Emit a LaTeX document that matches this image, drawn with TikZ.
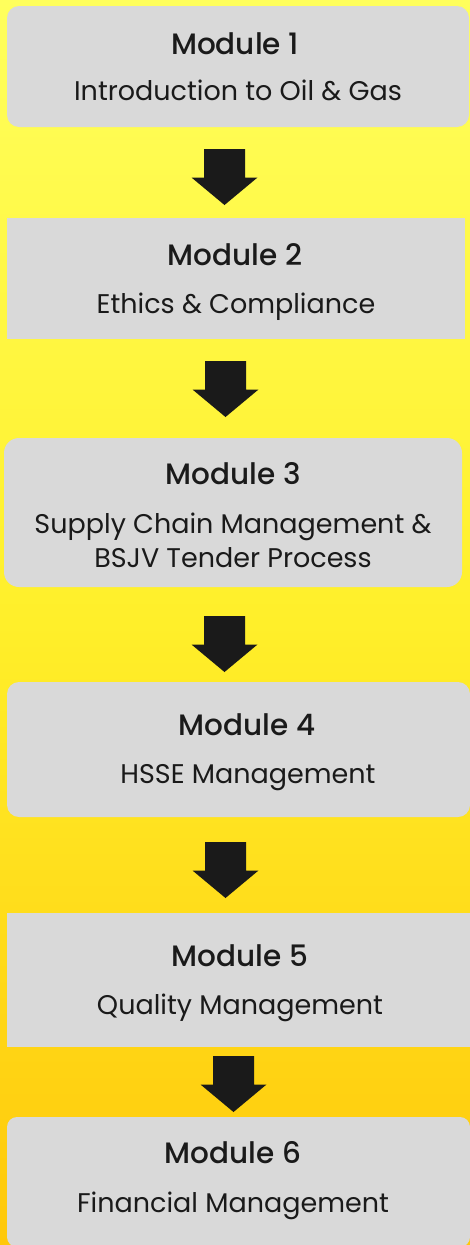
\documentclass[tikz,border=0pt]{standalone}
\usepackage{fontspec}
\IfFontExistsTF{Poppins Medium}
  {\setmainfont{Poppins}[BoldFont={Poppins Medium}]}
  {\setmainfont{Poppins}}
\definecolor{boxgray}{HTML}{D9D9D9}
\definecolor{ink}{HTML}{1A1A1A}
\definecolor{ytop}{HTML}{FFFF5C}
\definecolor{ymid}{HTML}{FFEF2A}
\definecolor{ybot}{HTML}{FFC80A}
\newcommand\blockarrow[1]{%
  \fill[ink] ([xshift=-20.5pt]#1) -- ([xshift=20.5pt]#1) -- ([xshift=20.5pt,yshift=-28.5pt]#1)
   -- ([xshift=33pt,yshift=-28.5pt]#1) -- ([yshift=-56pt]#1) -- ([xshift=-33pt,yshift=-28.5pt]#1)
   -- ([xshift=-20.5pt,yshift=-28.5pt]#1) -- cycle;}
\begin{document}
\begin{tikzpicture}[x=1pt,y=-1pt,
  box/.style={fill=boxgray, draw=none, inner sep=0pt, outer sep=0pt},
  title/.style={anchor=base, text=ink, inner sep=0pt, font=\fontsize{29.5}{34}\selectfont\bfseries},
  desc/.style={anchor=base, text=ink, inner sep=0pt, font=\fontsize{27}{32}\selectfont}]
\useasboundingbox (0,0) rectangle (470,1245);
\shade[top color=ytop, bottom color=ybot, middle color=ymid] (0,0) rectangle (470,1245);
% boxes
\node[box, rounded corners=12pt, minimum width=462pt, minimum height=121pt] (m1) at (238,66.5) {};
\node[box, minimum width=458pt, minimum height=121pt] (m2) at (236,278.5) {};
\node[box, rounded corners=15pt, minimum width=458pt, minimum height=149pt] (m3) at (233,512.5) {};
\node[box, rounded corners=12pt, minimum width=463pt, minimum height=135pt] (m4) at (238.5,749.5) {};
\node[box, minimum width=463pt, minimum height=134pt] (m5) at (238.5,980) {};
\node[box, rounded corners=10pt, minimum width=463pt, minimum height=130pt] (m6) at (238.5,1182) {};
% texts
\node[title] (t1) at (235,54) {Module 1};
\node[desc] (d1) at (238,100) {Introduction to Oil \& Gas};
\node[title] (t2) at (235,265) {Module 2};
\node[desc] (d2) at (236,313) {Ethics \& Compliance};
\node[title] (t3) at (233,484) {Module 3};
\node[desc] (d3a) at (233,533) {Supply Chain Management \&};
\node[desc] (d3b) at (233,567) {BSJV Tender Process};
\node[title] (t4) at (247,735) {Module 4};
\node[desc] (d4) at (248,783) {HSSE Management};
\node[title] (t5) at (240,966) {Module 5};
\node[desc] (d5) at (240,1014) {Quality Management};
\node[title] (t6) at (233,1163) {Module 6};
\node[desc] (d6) at (233,1212) {Financial Management};
% arrows
\coordinate (a1) at (224.5,149);
\coordinate (a2) at (225.5,361);
\coordinate (a3) at (224.5,616);
\coordinate (a4) at (225.5,842);
\coordinate (a5) at (233.5,1056);
\blockarrow{a1}
\blockarrow{a2}
\blockarrow{a3}
\blockarrow{a4}
\blockarrow{a5}
\end{tikzpicture}
\end{document}
